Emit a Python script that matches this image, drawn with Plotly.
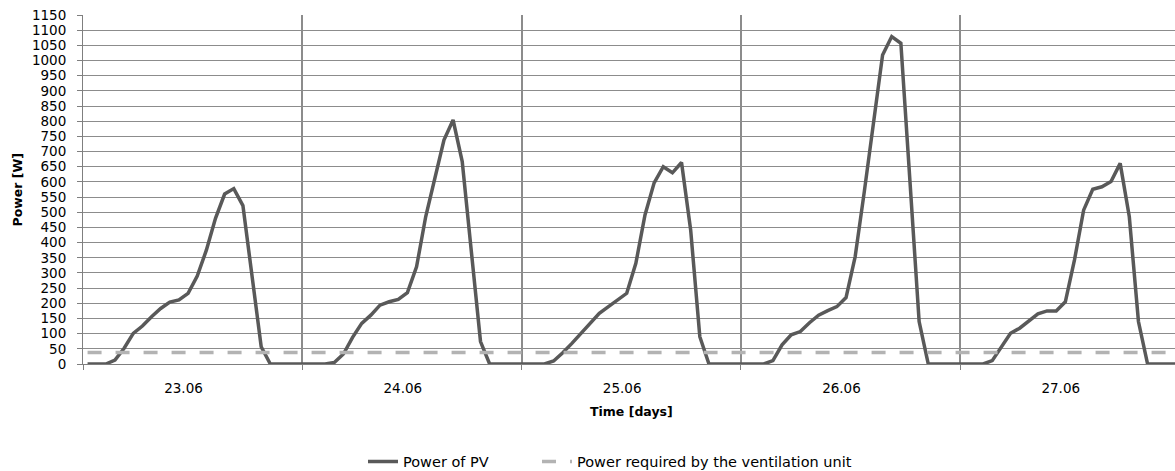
import plotly.graph_objects as go

# ---- data ----
days = ["23.06", "24.06", "25.06", "26.06", "27.06"]
hours = list(range(24))

pv_23 = [0, 0, 0, 13, 52, 101, 125, 156, 183, 204, 211, 233, 290, 375, 480, 560, 578, 522, 300, 57, 0, 0, 0, 0]
pv_24 = [0, 0, 0, 5, 33, 88, 134, 161, 194, 205, 213, 235, 320, 485, 606, 738, 804, 667, 370, 74, 0, 0, 0, 0]
pv_25 = [0, 0, 0, 10, 37, 68, 100, 134, 167, 189, 211, 233, 332, 491, 597, 650, 630, 664, 441, 90, 0, 0, 0, 0]
pv_26 = [0, 0, 0, 11, 63, 96, 107, 136, 161, 176, 189, 219, 354, 568, 804, 1018, 1079, 1057, 600, 140, 0, 0, 0, 0]
pv_27 = [0, 0, 0, 11, 57, 101, 118, 143, 165, 175, 175, 205, 343, 507, 576, 584, 601, 661, 485, 140, 0, 0, 0, 0]

vent_power = 38  # W, constant demand of the ventilation unit

y_ticks = list(range(0, 1151, 50))

# ---- build ----
pv = pv_23 + pv_24 + pv_25 + pv_26 + pv_27
x = [d * 24 + h + 0.5 for d in range(len(days)) for h in hours]
vent = [vent_power] * len(x)

L, T, B = 83, 15, 107
W, H = 1175, 471
plot_w = W - L
plot_h = H - T - B

def px_x(p):
    return (p - L) / plot_w

def px_y(p):
    return (H - B - p) / plot_h

fig = go.Figure()
fig.add_trace(go.Scatter(
    x=x, y=pv, mode="lines", name="Power of PV",
    line=dict(color="#595959", width=3.5), legend="legend"))
fig.add_trace(go.Scatter(
    x=x, y=vent, mode="lines", name="Power required by the ventilation unit",
    line=dict(color="#b3b3b3", width=3.5, dash="14px,14px"), legend="legend2"))

grid_col = "#8c8c8c"
fig.update_layout(
    width=W, height=H,
    margin=dict(l=L, r=0, t=T, b=B, autoexpand=False),
    plot_bgcolor="white", paper_bgcolor="white",
    font=dict(family="DejaVu Sans", size=13.5, color="#000000"),
    showlegend=True,
    legend=dict(orientation="h", x=px_x(363), y=px_y(461.5), xanchor="left", yanchor="middle",
                font=dict(size=14.5), bgcolor="rgba(0,0,0,0)"),
    legend2=dict(orientation="h", x=px_x(537), y=px_y(461.5), xanchor="left", yanchor="middle",
                 font=dict(size=14.5), bgcolor="rgba(0,0,0,0)"),
)

fig.update_xaxes(
    automargin=False,
    range=[0, 119.5],
    tickmode="array", tickvals=[d * 24 + 11 for d in range(len(days))], ticktext=days,
    ticks="", showgrid=False, zeroline=False,
    showline=True, linecolor="#7f7f7f", linewidth=1,
    ticklabelstandoff=12,
    minor=dict(tickmode="array", tickvals=[d * 24 for d in range(len(days) + 1)],
               ticks="outside", ticklen=5, tickcolor="#7f7f7f", tickwidth=1,
               showgrid=True, gridcolor=grid_col, gridwidth=2),
)
fig.update_yaxes(
    automargin=False,
    range=[0, 1150],
    tickmode="array", tickvals=y_ticks,
    ticks="outside", ticklen=5, tickcolor="#7f7f7f",
    showgrid=True, gridcolor=grid_col, gridwidth=1.3,
    zeroline=False, showline=True, linecolor="#7f7f7f", linewidth=1,
    ticklabelstandoff=8,
)

fig.add_annotation(text="<b>Power [W]</b>", xref="paper", yref="paper",
                   x=px_x(17), y=0.5, xanchor="center", yanchor="middle",
                   textangle=-90, showarrow=False, font=dict(size=12.5))
fig.add_annotation(text="<b>Time [days]</b>", xref="paper", yref="paper",
                   x=px_x(631), y=px_y(411), xanchor="center", yanchor="middle",
                   showarrow=False, font=dict(size=12.5))

fig.write_html("out.html")
